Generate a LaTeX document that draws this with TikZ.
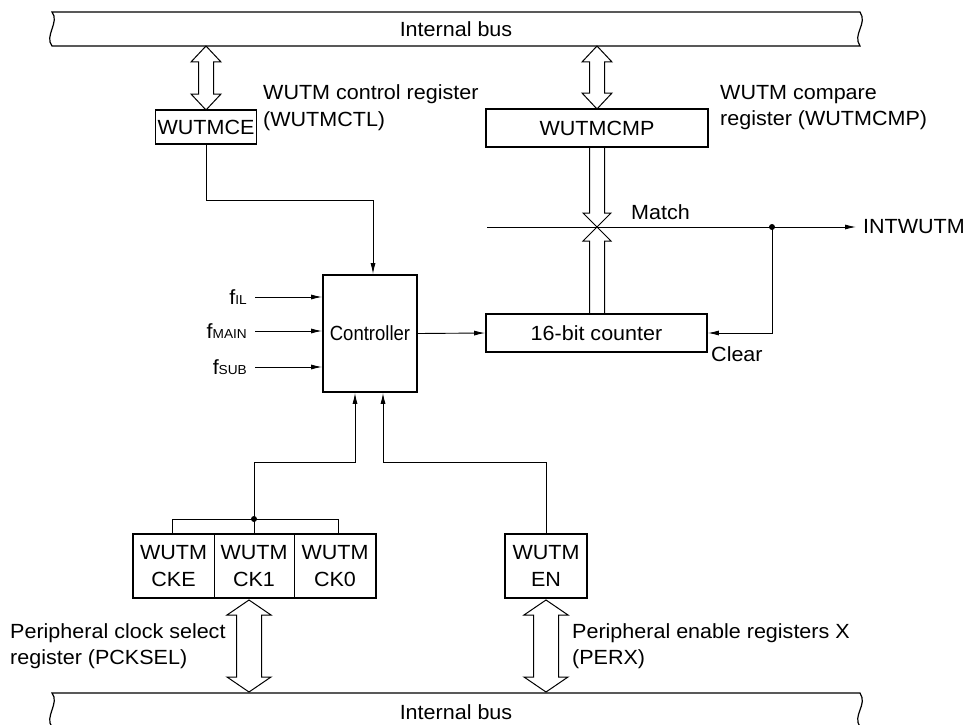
\documentclass[tikz,border=0pt]{standalone}
\usepackage{graphicx}
\usepackage{fontspec}
\setmainfont{Liberation Sans}[FakeStretch=1.05]
\usetikzlibrary{arrows.meta}
\newcommand\myfs{\fontsize{20.5}{26.5}\selectfont}
\newcommand\mysub{\fontsize{13}{15}\selectfont}
\newcommand\dblarr[6]{% x, ytop, ybot, shaft half, head half, head length
  \draw[blk] (#1,#2) -- (#1+#5,#2+#6) -- (#1+#4,#2+#6) -- (#1+#4,#3-#6) -- (#1+#5,#3-#6) -- (#1,#3)
    -- (#1-#5,#3-#6) -- (#1-#4,#3-#6) -- (#1-#4,#2+#6) -- (#1-#5,#2+#6) -- cycle;}
\begin{document}
\begin{tikzpicture}[x=1pt,y=-1pt,
  box/.style={draw, line width=1.8pt, inner sep=0pt, align=center, font=\myfs},
  plainbox/.style={inner sep=0pt, align=center, font=\myfs},
  conn/.style={line width=0.9pt},
  arr/.style={conn, -{Latex[length=11pt,width=5pt]}},
  blk/.style={draw, line width=1pt, fill=white},
  bus/.style={draw, line width=1.2pt},
  lbl/.style={align=left, font=\myfs, inner sep=0pt}]
\useasboundingbox (0,0) rectangle (966,725);

% top internal bus
\draw[bus] (52,12) -- (860,12) .. controls (868,24) and (852,34) .. (860,46)
  -- (52,46) .. controls (44,36) and (60,22) .. (52,12) -- cycle;
\node[lbl] (busT) at (456,29) {Internal bus};

% bottom internal bus (cut by the page edge)
\begin{scope}
\clip (0,0) rectangle (966,725);
\draw[bus] (52,727) .. controls (44,717) and (60,703) .. (52,693) -- (860,693)
  .. controls (868,705) and (852,715) .. (860,727);
\end{scope}
\node[lbl] (busB) at (456,712) {Internal bus};

% registers and blocks
\node[box, minimum width=101, minimum height=34] (ce) at (206,127) {WUTMCE};
\node[box, minimum width=222, minimum height=38] (cmp) at (597,128) {WUTMCMP};
\node[box, minimum width=94, minimum height=117] (ctl) at (370,333.5) {\scalebox{0.86}[1]{Controller}};
\node[box, minimum width=221, minimum height=38] (cnt) at (596.5,333) {16-bit counter};
\node[plainbox, minimum width=81, minimum height=64] (cke) at (173.5,566) {WUTM\\CKE};
\node[plainbox, minimum width=80, minimum height=64] (ck1) at (254,566) {WUTM\\CK1};
\node[plainbox, minimum width=82, minimum height=64] (ck0) at (335,566) {WUTM\\CK0};
\draw[line width=1.8pt] (cke.north west) rectangle (ck0.south east);
\draw[conn] (cke.north east) -- (cke.south east);
\draw[conn] (ck1.north east) -- (ck1.south east);
\node[box, minimum width=82, minimum height=64] (en) at (546,566) {WUTM\\EN};

% labels
\node[lbl, anchor=west] (lctl) at (263,107.5) {WUTM control register\\(WUTMCTL)};
\node[lbl, anchor=west] (lcmp) at (720,107.5) {WUTM compare\\register (WUTMCMP)};
\node[lbl, anchor=west] (lpck) at (10,646) {Peripheral clock select\\register (PCKSEL)};
\node[lbl, anchor=west] (lper) at (572,646) {Peripheral enable registers X\\(PERX)};
\node[lbl, anchor=west] (match) at (631,212) {Match};
\node[lbl, anchor=west] (int) at (863,227) {INTWUTM};
\node[lbl, anchor=west] (clear) at (711,354) {Clear};
\node[lbl, anchor=east] (fil) at (247,297) {f{\mysub IL}};
\node[lbl, anchor=east] (fmain) at (247,331) {f{\mysub MAIN}};
\node[lbl, anchor=east] (fsub) at (247,367) {f{\mysub SUB}};

% clock inputs
\draw[arr] ([xshift=8pt]fil.east) -- (ctl.west |- fil.east);
\draw[arr] ([xshift=8pt]fmain.east) -- (ctl.west |- fmain.east);
\draw[arr] ([xshift=8pt]fsub.east) -- (ctl.west |- fsub.east);

% WUTMCE -> controller
\coordinate (yce) at (0,200);
\coordinate (ctlin1) at ([xshift=3pt]ctl.north);
\draw[arr] (ce.south) -- (ce.south |- yce) -| (ctlin1);

% controller -> counter
\draw[arr] (ctl.east) -- (cnt.west);

% match line
\coordinate (mstart) at (487,227);
\coordinate (mdot) at (772,227);
\draw[arr] (mstart) -- ([xshift=-7pt]int.west);
\fill (mdot) circle (3);
\draw[arr] (mdot) |- (cnt.east);

% compare arrows crossing at match
\draw[blk, fill=none] (589.5,147) -- (589.5,213) -- (583,213) -- (597,227) -- (611,213) -- (604.5,213) -- (604.5,147);
\draw[blk, fill=none] (589.5,314) -- (589.5,241) -- (583,241) -- (597,227) -- (611,241) -- (604.5,241) -- (604.5,314);

% clock select bracket and lines to controller
\coordinate (brl) at (172,519);
\coordinate (brr) at (338,519);
\coordinate (ckdot) at (ck1.north |- brl);
\coordinate (yh) at (0,462);
\coordinate (ctlin2) at ([xshift=-15pt]ctl.south);
\coordinate (ctlin3) at ([xshift=13pt]ctl.south);
\draw[conn] (brl |- cke.north) -- (brl) -- (brr) -- (brr |- ck0.north);
\draw[conn] (ck1.north) -- (ckdot);
\fill (ckdot) circle (3);
\draw[arr] (ckdot) -- (ckdot |- yh) -| (ctlin2);
\draw[arr] (en.north) -- (en.north |- yh) -| (ctlin3);

% bus block arrows
\dblarr{206}{46}{110}{7.5}{15}{16}
\dblarr{597}{46}{109}{7.5}{15}{16}
\dblarr{249}{600}{692}{12.5}{22}{15}
\dblarr{546}{600}{692}{12.5}{22}{15}
\end{tikzpicture}
\end{document}
